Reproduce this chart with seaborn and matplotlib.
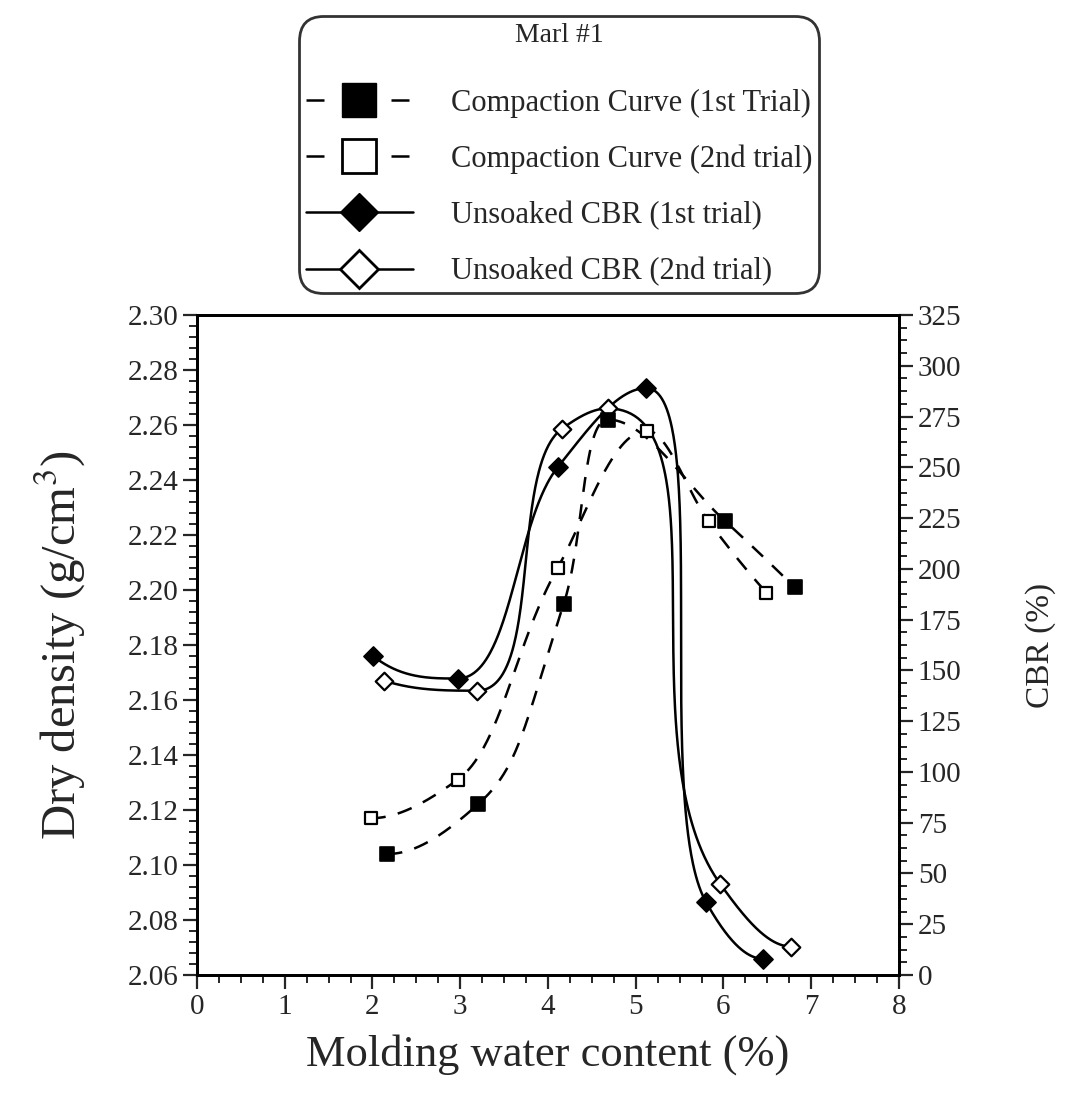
import numpy as np
import matplotlib
matplotlib.use("Agg")
import matplotlib.pyplot as plt
import seaborn as sns
from matplotlib.lines import Line2D
from matplotlib.ticker import MultipleLocator, FormatStrFormatter

# molding water content (%) and dry density (g/cm3) - compaction curves
comp1_w = [2.17, 3.20, 4.18, 4.68, 6.02, 6.81]
comp1_dd = [2.104, 2.122, 2.195, 2.262, 2.225, 2.201]
comp2_w = [1.98, 2.97, 4.11, 5.13, 5.83, 6.49]
comp2_dd = [2.117, 2.131, 2.208, 2.258, 2.225, 2.199]

# unsoaked CBR (%)
cbr1_w = [2.01, 2.97, 4.11, 5.12, 5.80, 6.45]
cbr1 = [157, 146, 250, 289, 36, 8]
cbr2_w = [2.13, 3.19, 4.16, 4.68, 5.96, 6.77]
cbr2 = [145, 140, 269, 279, 45, 14]

labels = ["Compaction Curve (1st Trial)", "Compaction Curve (2nd trial)",
          "Unsoaked CBR (1st trial)", "Unsoaked CBR (2nd trial)"]


def pchip_slopes(x, y):
    h = np.diff(x)
    d = np.diff(y) / h
    m = np.zeros_like(y)
    for k in range(1, len(x) - 1):
        if d[k - 1] * d[k] > 0:
            w1 = 2 * h[k] + h[k - 1]
            w2 = h[k] + 2 * h[k - 1]
            m[k] = (w1 + w2) / (w1 / d[k - 1] + w2 / d[k])

    def end(h0, h1, d0, d1):
        mm = ((2 * h0 + h1) * d0 - h0 * d1) / (h0 + h1)
        if np.sign(mm) != np.sign(d0):
            mm = 0.0
        elif np.sign(d0) != np.sign(d1) and abs(mm) > abs(3 * d0):
            mm = 3 * d0
        return mm

    m[0] = end(h[0], h[1], d[0], d[1])
    m[-1] = end(h[-1], h[-2], d[-1], d[-2])
    return m


def smooth(a, w, v, n=150):
    # parametric hermite curve through the points, worked out in screen pixels;
    # steep drops after a peak get longer tangents, like the old plotting program
    P = a.transData.transform(np.column_stack([w, v]).astype(float))
    x, y = P[:, 0], P[:, 1]
    m = pchip_slopes(x, y)
    d = np.diff(y)
    peak = np.zeros(len(x), bool)
    peak[1:-1] = d[:-1] * d[1:] <= 0
    t = np.linspace(0, 1, n)
    h00 = 2 * t**3 - 3 * t**2 + 1
    h10 = t**3 - 2 * t**2 + t
    h01 = -2 * t**3 + 3 * t**2
    h11 = t**3 - t**2
    X, Y = [], []
    for k in range(len(x) - 1):
        dx, dy = x[k + 1] - x[k], y[k + 1] - y[k]
        g = np.clip(abs(dy / dx) / 1.5, 1.0, 2.9)
        if peak[k + 1]:
            g = min(g, 1.5)
        if g > 1:
            La = dx * g * (1.15 if peak[k] else 0.92)
            Lb = dx * g * (1.15 if peak[k + 1] else 0.92)
        else:
            La = Lb = dx
        X.append(h00 * x[k] + h10 * La + h01 * x[k + 1] + h11 * Lb)
        Y.append(h00 * y[k] + h10 * La * m[k] + h01 * y[k + 1] + h11 * Lb * m[k + 1])
    xy = np.column_stack([np.concatenate(X), np.concatenate(Y)])
    return a.transData.inverted().transform(xy)


sns.set_style("ticks")
plt.rcParams["font.family"] = ["Liberation Serif", "DejaVu Serif"]
plt.rcParams["mathtext.fontset"] = "stix"

fig = plt.figure(figsize=(10.73, 10.95), dpi=100)
ax = fig.add_axes([0.1836, 0.1096, 0.6542, 0.6027])
ax2 = ax.twinx()

ax.set_xlim(0, 8)
ax.set_ylim(2.06, 2.30)
ax2.set_ylim(0, 325)

dash = (0, (6, 5))
for w, v, a, ls in [(comp1_w, comp1_dd, ax, dash), (comp2_w, comp2_dd, ax, dash),
                    (cbr1_w, cbr1, ax2, "-"), (cbr2_w, cbr2, ax2, "-")]:
    c = smooth(a, w, v)
    sns.lineplot(x=c[:, 0], y=c[:, 1], ax=a, color="k", lw=1.8,
                 linestyle=ls, estimator=None, sort=False)

sns.scatterplot(x=comp1_w, y=comp1_dd, ax=ax, marker="s", s=95, color="k",
                edgecolor="k", linewidth=1.2, zorder=5)
sns.scatterplot(x=comp2_w, y=comp2_dd, ax=ax, marker="s", s=80, color="white",
                edgecolor="k", linewidth=1.6, zorder=5)
sns.scatterplot(x=cbr1_w, y=cbr1, ax=ax2, marker="D", s=95, color="k",
                edgecolor="k", linewidth=1.2, zorder=5)
sns.scatterplot(x=cbr2_w, y=cbr2, ax=ax2, marker="D", s=80, color="white",
                edgecolor="k", linewidth=1.6, zorder=5)

ax.set_xlim(0, 8)
ax.set_ylim(2.06, 2.30)
ax2.set_ylim(0, 325)
ax.xaxis.set_major_locator(MultipleLocator(1))
ax.xaxis.set_minor_locator(MultipleLocator(0.25))
ax.yaxis.set_major_locator(MultipleLocator(0.02))
ax.yaxis.set_minor_locator(MultipleLocator(0.004))
ax.yaxis.set_major_formatter(FormatStrFormatter("%.2f"))
ax2.yaxis.set_major_locator(MultipleLocator(25))
ax2.yaxis.set_minor_locator(MultipleLocator(6.25))

for a in (ax, ax2):
    a.tick_params(which="major", direction="out", length=10, width=1.6, labelsize=21)
    a.tick_params(which="minor", direction="out", length=6, width=1.4)
    for sp in a.spines.values():
        sp.set_linewidth(2)
        sp.set_color("k")

ax.set_xlabel("Molding water content (%)", fontsize=32, labelpad=10)
ax.set_ylabel("Dry density (g/cm$^3$)", fontsize=35, labelpad=28)
ax2.set_ylabel("CBR (%)", fontsize=24, labelpad=46)
ax.set_zorder(ax2.get_zorder() + 1)
ax.patch.set_visible(False)

leg_dash = (0, (7.2, 9.8))
handles = [
    Line2D([], [], color="k", lw=1.8, ls=leg_dash, marker="s", ms=25, mfc="k", mec="k"),
    Line2D([], [], color="k", lw=1.8, ls=leg_dash, marker="s", ms=24, mfc="white", mec="k", mew=2),
    Line2D([], [], color="k", lw=1.8, ls="-", marker="D", ms=19, mfc="k", mec="k"),
    Line2D([], [], color="k", lw=1.8, ls="-", marker="D", ms=19, mfc="white", mec="k", mew=2),
]
leg = fig.legend(handles, labels, title="Marl #1", loc="upper center",
                 bbox_to_anchor=(0.521, 0.985), fontsize=22, title_fontsize=20,
                 handlelength=3.5, handletextpad=1.25, labelspacing=0.88,
                 borderpad=0.22, borderaxespad=0.0, fancybox=True, frameon=True)
leg._legend_box.sep = 29
fr = leg.get_frame()
fr.set_edgecolor("k")
fr.set_linewidth(2)
fr.set_facecolor("white")
fr.set_boxstyle("round,pad=0.0,rounding_size=0.8")

fig.savefig("out.png", dpi=100, facecolor="white")
